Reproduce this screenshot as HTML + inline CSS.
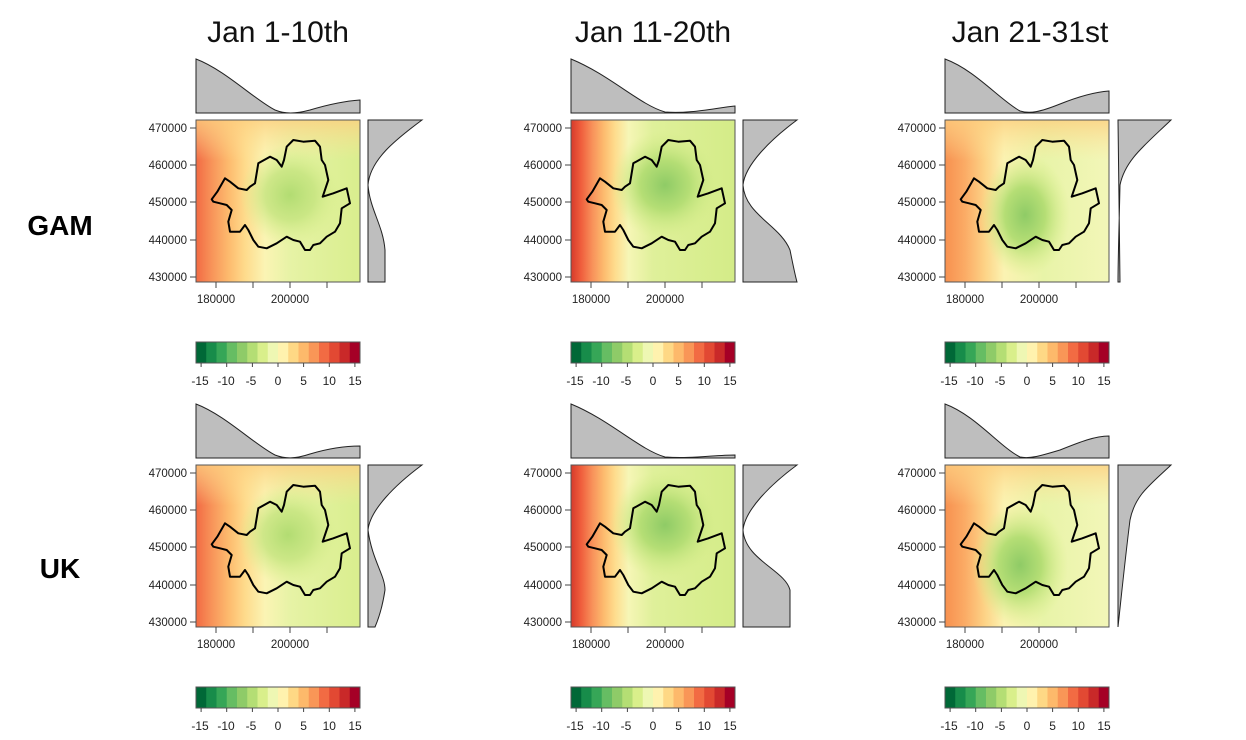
<!DOCTYPE html>
<html><head><meta charset="utf-8"><style>
html,body{margin:0;padding:0;background:#fff;}
svg{display:block;font-family:"Liberation Sans",sans-serif;}
.t{font-size:30px;fill:#111;text-anchor:middle}
.r{font-size:28px;font-weight:bold;fill:#000;text-anchor:middle}
.yl{font-size:11.5px;fill:#222;text-anchor:end}
.xl{font-size:11.5px;fill:#222;text-anchor:middle}
.cl{font-size:12px;fill:#222;text-anchor:middle}
.d{fill:#bebebe;stroke:#222;stroke-width:1}
.o{fill:none;stroke:#000;stroke-width:2;stroke-linejoin:round}
.tk{stroke:#444;stroke-width:1}
</style></head><body>
<svg width="1246" height="740" viewBox="0 0 1246 740">
<defs>
<path id="seoul" d="M15.7,79.3 L21.3,71.7 L29,58.3 L34,61.7 L42.3,68.3 L50.7,70 L54,66.7 L59,63.3 L62.3,43.3 L74,36.7 L80.7,40 L85.7,46.7 L88,40 L90.7,26.7 L97.3,20 L107.3,21.7 L119,20.7 L124,26.7 L125.7,40 L129,45 L132.3,60 L126.7,76.7 L137.3,73.3 L150.7,68.3 L154,83.3 L145.7,88.3 L144,103.3 L139,111.7 L130.7,116.7 L124,123.3 L117.3,125 L114,130 L109,130 L104,121.7 L97.3,120 L90.7,116.7 L80.7,123.3 L70.7,128.3 L62.3,126.7 L57.3,120 L52.3,110 L49,105 L44,111.7 L34,111.7 L32.3,101.7 L35.7,90 L30.7,85 L24,83.3 L17.3,81.7 Z"/>
<linearGradient id="g1" x1="0" x2="1" y1="0" y2="0">
<stop offset="0" stop-color="#f26a43"/><stop offset="0.1" stop-color="#f8955a"/><stop offset="0.2" stop-color="#fdbb6e"/><stop offset="0.3" stop-color="#fedb8c"/><stop offset="0.42" stop-color="#fbf4b4"/><stop offset="0.58" stop-color="#e6f3a5"/><stop offset="1" stop-color="#d9ee8e"/></linearGradient>
<linearGradient id="g2" x1="0" x2="1" y1="0" y2="0">
<stop offset="0" stop-color="#d63a2b"/><stop offset="0.06" stop-color="#ef5d3c"/><stop offset="0.13" stop-color="#f8915a"/><stop offset="0.2" stop-color="#fdbb6e"/><stop offset="0.27" stop-color="#fedd8e"/><stop offset="0.35" stop-color="#f6f6b6"/><stop offset="0.5" stop-color="#dff09a"/><stop offset="1" stop-color="#d4ec88"/></linearGradient>
<linearGradient id="g3" x1="0" x2="1" y1="0" y2="0">
<stop offset="0" stop-color="#f7904f"/><stop offset="0.12" stop-color="#fbab65"/><stop offset="0.24" stop-color="#fdd285"/><stop offset="0.36" stop-color="#fbf3b2"/><stop offset="0.6" stop-color="#e8f4a8"/><stop offset="1" stop-color="#f3f6b8"/></linearGradient>
<linearGradient id="gt" x1="0" x2="0" y1="0" y2="1">
<stop offset="0" stop-color="#fdcf80" stop-opacity="0.8"/><stop offset="0.25" stop-color="#fde49a" stop-opacity="0"/></linearGradient>
<radialGradient id="b1" cx="0.5" cy="0.5" r="0.5"><stop offset="0" stop-color="#b2dc72"/><stop offset="0.5" stop-color="#c4e47e" stop-opacity="0.8"/><stop offset="1" stop-color="#d9ef8b" stop-opacity="0"/></radialGradient>
<radialGradient id="b2" cx="0.5" cy="0.5" r="0.5"><stop offset="0" stop-color="#8fcb66"/><stop offset="0.45" stop-color="#b5de75"/><stop offset="1" stop-color="#d9ef8b" stop-opacity="0"/></radialGradient>
</defs>

<text class="t" x="278" y="42">Jan 1-10th</text>
<text class="t" x="653" y="42">Jan 11-20th</text>
<text class="t" x="1030" y="42">Jan 21-31st</text>
<text class="r" x="60" y="235">GAM</text>
<text class="r" x="60" y="578">UK</text>

<g>
<path class="d" d="M196,113 L196,59 C225,70 255,100 275,110 C285,114 295,114 310,110 C330,104 345,101 360,100 L360,113 Z"/>
<path class="d" d="M368,120 L422,120 C395,140 370,160 368,185 C370,210 383,225 385,250 L385,282 L368,282 Z"/>
<rect x="196" y="120" width="164" height="162" fill="url(#g1)"/>
<rect x="196" y="120" width="164" height="162" fill="url(#gt)"/>
<ellipse cx="290" cy="195" rx="50" ry="50" fill="url(#b1)"/>
<use href="#seoul" x="196" y="120" class="o"/>
<rect x="196" y="120" width="164" height="162" fill="none" stroke="#555"/>
</g>
<g>
<path class="d" d="M571,113 L571,59 C610,75 640,105 665,112 C690,114 715,108 735,106 L735,113 Z"/>
<path class="d" d="M743,120 L797,120 C770,140 745,165 743,185 C745,215 780,225 790,250 C793,265 795,275 797,282 L743,282 Z"/>
<rect x="571" y="120" width="164" height="162" fill="url(#g2)"/>
<ellipse cx="665" cy="185" rx="55" ry="55" fill="url(#b2)"/>
<use href="#seoul" x="571" y="120" class="o"/>
<rect x="571" y="120" width="164" height="162" fill="none" stroke="#555"/>
</g>
<g>
<path class="d" d="M945,113 L945,59 C975,70 1000,100 1020,111 C1030,114 1040,112 1060,104 C1080,96 1095,92 1109,91 L1109,113 Z"/>
<path class="d" d="M1118,120 L1171,120 C1145,145 1125,160 1120,185 C1119,230 1118,260 1118,282 L1120,282 Z"/>
<rect x="945" y="120" width="164" height="162" fill="url(#g3)"/>
<rect x="945" y="120" width="164" height="162" fill="url(#gt)"/>
<ellipse cx="1025" cy="215" rx="45" ry="62" fill="url(#b2)"/>
<use href="#seoul" x="945" y="120" class="o"/>
<rect x="945" y="120" width="164" height="162" fill="none" stroke="#555"/>
</g>

<g>
<path class="d" d="M196,458 L196,404 C225,415 255,445 275,455 C285,459 295,459 310,454 C330,448 345,446 360,446 L360,458 Z"/>
<path class="d" d="M368,465 L422,465 C395,485 370,510 368,530 C372,560 385,575 385,590 C382,610 378,620 375,627 L368,627 Z"/>
<rect x="196" y="465" width="164" height="162" fill="url(#g1)"/>
<rect x="196" y="465" width="164" height="162" fill="url(#gt)"/>
<ellipse cx="288" cy="535" rx="50" ry="50" fill="url(#b1)"/>
<use href="#seoul" x="196" y="465" class="o"/>
<rect x="196" y="465" width="164" height="162" fill="none" stroke="#555"/>
</g>
<g>
<path class="d" d="M571,458 L571,404 C610,420 640,450 665,457 C690,459 715,455 735,455 L735,458 Z"/>
<path class="d" d="M743,465 L797,465 C770,485 745,510 743,530 C745,560 785,570 790,590 L790,627 L743,627 Z"/>
<rect x="571" y="465" width="164" height="162" fill="url(#g2)"/>
<ellipse cx="665" cy="525" rx="55" ry="55" fill="url(#b2)"/>
<use href="#seoul" x="571" y="465" class="o"/>
<rect x="571" y="465" width="164" height="162" fill="none" stroke="#555"/>
</g>
<g>
<path class="d" d="M945,458 L945,404 C975,415 1000,447 1020,457 C1030,459 1040,456 1060,450 C1080,442 1095,436 1109,436 L1109,458 Z"/>
<path class="d" d="M1118,465 L1171,465 C1150,485 1135,495 1130,520 C1125,560 1122,590 1118,627 Z"/>
<rect x="945" y="465" width="164" height="162" fill="url(#g3)"/>
<rect x="945" y="465" width="164" height="162" fill="url(#gt)"/>
<ellipse cx="1020" cy="565" rx="48" ry="62" fill="url(#b2)"/>
<use href="#seoul" x="945" y="465" class="o"/>
<rect x="945" y="465" width="164" height="162" fill="none" stroke="#555"/>
</g>

<g class="tk">
<path d="M190,128H196M190,165H196M190,202H196M190,240H196M190,277H196 M216,282V288M253,282V288M290,282V288M327,282V288"/>
<path d="M565,128H571M565,165H571M565,202H571M565,240H571M565,277H571 M591,282V288M628,282V288M665,282V288M702,282V288"/>
<path d="M939,128H945M939,165H945M939,202H945M939,240H945M939,277H945 M965,282V288M1002,282V288M1039,282V288M1076,282V288"/>
<path d="M190,473H196M190,510H196M190,547H196M190,585H196M190,622H196 M216,627V633M253,627V633M290,627V633M327,627V633"/>
<path d="M565,473H571M565,510H571M565,547H571M565,585H571M565,622H571 M591,627V633M628,627V633M665,627V633M702,627V633"/>
<path d="M939,473H945M939,510H945M939,547H945M939,585H945M939,622H945 M965,627V633M1002,627V633M1039,627V633M1076,627V633"/>
</g>

<g class="yl">
<text x="187" y="132">470000</text><text x="187" y="169">460000</text><text x="187" y="206">450000</text><text x="187" y="244">440000</text><text x="187" y="281">430000</text>
<text x="562" y="132">470000</text><text x="562" y="169">460000</text><text x="562" y="206">450000</text><text x="562" y="244">440000</text><text x="562" y="281">430000</text>
<text x="936" y="132">470000</text><text x="936" y="169">460000</text><text x="936" y="206">450000</text><text x="936" y="244">440000</text><text x="936" y="281">430000</text>
<text x="187" y="477">470000</text><text x="187" y="514">460000</text><text x="187" y="551">450000</text><text x="187" y="589">440000</text><text x="187" y="626">430000</text>
<text x="562" y="477">470000</text><text x="562" y="514">460000</text><text x="562" y="551">450000</text><text x="562" y="589">440000</text><text x="562" y="626">430000</text>
<text x="936" y="477">470000</text><text x="936" y="514">460000</text><text x="936" y="551">450000</text><text x="936" y="589">440000</text><text x="936" y="626">430000</text>
</g>
<g class="xl">
<text x="216" y="303">180000</text><text x="290" y="303">200000</text>
<text x="591" y="303">180000</text><text x="665" y="303">200000</text>
<text x="965" y="303">180000</text><text x="1039" y="303">200000</text>
<text x="216" y="648">180000</text><text x="290" y="648">200000</text>
<text x="591" y="648">180000</text><text x="665" y="648">200000</text>
<text x="965" y="648">180000</text><text x="1039" y="648">200000</text>
</g>

<g id="cb1" transform="translate(196,342)">
<rect x="0" width="10.5" height="21" fill="#006837"/><rect x="10.25" width="10.5" height="21" fill="#178c4a"/><rect x="20.5" width="10.5" height="21" fill="#36a657"/><rect x="30.75" width="10.5" height="21" fill="#66bd63"/><rect x="41" width="10.5" height="21" fill="#8ecb68"/><rect x="51.25" width="10.5" height="21" fill="#b4de74"/><rect x="61.5" width="10.5" height="21" fill="#d9ef8b"/><rect x="71.75" width="10.5" height="21" fill="#eef7b3"/><rect x="82" width="10.5" height="21" fill="#fff2ae"/><rect x="92.25" width="10.5" height="21" fill="#fed885"/><rect x="102.5" width="10.5" height="21" fill="#fdb96b"/><rect x="112.75" width="10.5" height="21" fill="#f99657"/><rect x="123" width="10.5" height="21" fill="#f26b43"/><rect x="133.25" width="10.5" height="21" fill="#e24933"/><rect x="143.5" width="10.5" height="21" fill="#c92929"/><rect x="153.75" width="10.25" height="21" fill="#a50026"/>
<rect x="0" width="164" height="21" fill="none" stroke="#555"/>
<path d="M5.1,21V25M30.7,21V25M56.4,21V25M82,21V25M107.6,21V25M133.3,21V25M158.9,21V25" stroke="#444"/>
</g>
<use href="#cb1" x="375" y="0"/><use href="#cb1" x="749" y="0"/>
<use href="#cb1" x="0" y="345"/><use href="#cb1" x="375" y="345"/><use href="#cb1" x="749" y="345"/>
<g class="cl">
<text x="200" y="385">-15</text><text x="226" y="385">-10</text><text x="251" y="385">-5</text><text x="278" y="385">0</text><text x="303.6" y="385">5</text><text x="329.3" y="385">10</text><text x="355" y="385">15</text>
<text x="575" y="385">-15</text><text x="601" y="385">-10</text><text x="626" y="385">-5</text><text x="653" y="385">0</text><text x="678.6" y="385">5</text><text x="704.3" y="385">10</text><text x="730" y="385">15</text>
<text x="949" y="385">-15</text><text x="975" y="385">-10</text><text x="1000" y="385">-5</text><text x="1027" y="385">0</text><text x="1052.6" y="385">5</text><text x="1078.3" y="385">10</text><text x="1104" y="385">15</text>
<text x="200" y="730">-15</text><text x="226" y="730">-10</text><text x="251" y="730">-5</text><text x="278" y="730">0</text><text x="303.6" y="730">5</text><text x="329.3" y="730">10</text><text x="355" y="730">15</text>
<text x="575" y="730">-15</text><text x="601" y="730">-10</text><text x="626" y="730">-5</text><text x="653" y="730">0</text><text x="678.6" y="730">5</text><text x="704.3" y="730">10</text><text x="730" y="730">15</text>
<text x="949" y="730">-15</text><text x="975" y="730">-10</text><text x="1000" y="730">-5</text><text x="1027" y="730">0</text><text x="1052.6" y="730">5</text><text x="1078.3" y="730">10</text><text x="1104" y="730">15</text>
</g>
</svg>
</body></html>
